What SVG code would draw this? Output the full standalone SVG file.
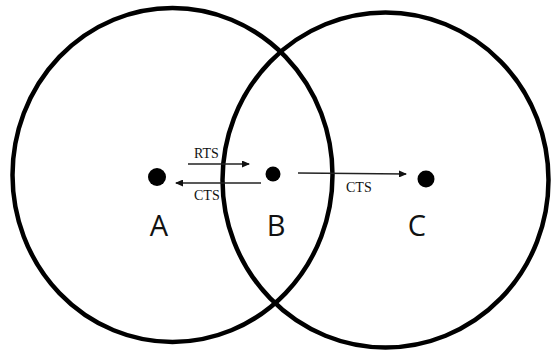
<svg xmlns="http://www.w3.org/2000/svg" width="551" height="354" viewBox="0 0 551 354">
<style>
.range{fill:none;stroke:#000;stroke-width:4.5}
.dot{fill:#000}
.lbl{font-family:"Open Sans","Liberation Sans",sans-serif;font-size:29px;fill:#111;text-anchor:middle}
.msg{font-family:"Liberation Serif",serif;font-size:14px;fill:#111}
.conn{stroke:#222;stroke-width:1.3;fill:none}
</style>
<defs>
<marker id="ah" markerWidth="8" markerHeight="7" refX="7" refY="3.5" orient="auto" markerUnits="userSpaceOnUse">
<path d="M0,0 L8,3.5 L0,7 Z" fill="#111"/>
</marker>
</defs>
<rect width="551" height="354" fill="#fff"/>
<g id="rangeA"><ellipse class="range" cx="172.5" cy="175" rx="160" ry="167"/></g>
<g id="rangeC"><ellipse class="range" cx="385.5" cy="180" rx="163" ry="167.5"/></g>
<g id="nodeA"><circle class="dot" cx="157" cy="177" r="9"/><text class="lbl" x="159" y="236">A</text></g>
<g id="nodeB"><circle class="dot" cx="273" cy="174" r="7.5"/><text class="lbl" x="276" y="236">B</text></g>
<g id="nodeC"><circle class="dot" cx="426" cy="179" r="8.5"/><text class="lbl" x="417" y="236">C</text></g>
<g id="connectors">
<line class="conn" x1="188" y1="164" x2="249" y2="164" marker-end="url(#ah)"/>
<text class="msg" x="194" y="158">RTS</text>
<line class="conn" x1="261" y1="183" x2="176" y2="183" marker-end="url(#ah)"/>
<text class="msg" x="194" y="200">CTS</text>
<line class="conn" x1="298" y1="173" x2="406" y2="174" marker-end="url(#ah)"/>
<text class="msg" x="346" y="192">CTS</text>
</g>
</svg>
